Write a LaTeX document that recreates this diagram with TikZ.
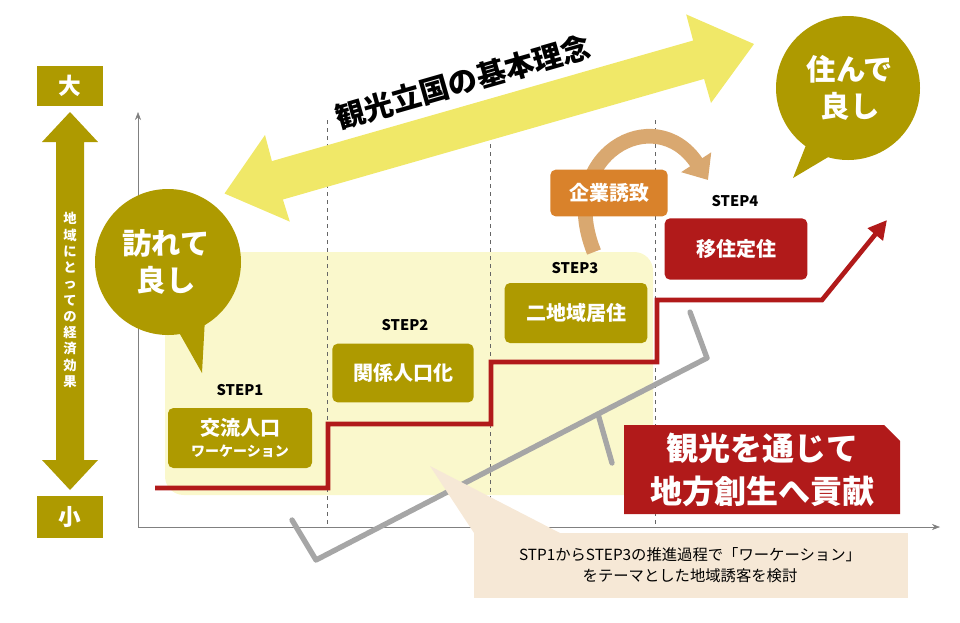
\documentclass[tikz,border=0pt]{standalone}
\usepackage{fontspec}
\setmainfont{Noto Sans CJK JP}
\usetikzlibrary{arrows.meta}
\definecolor{olive}{HTML}{AE9A00}
\definecolor{redc}{HTML}{B11A1A}
\definecolor{lyel}{HTML}{FAF8CC}
\definecolor{yel}{HTML}{F0E868}
\definecolor{orng}{HTML}{D9822B}
\definecolor{tan}{HTML}{D9A870}
\definecolor{beige}{HTML}{F6E8D6}
\begin{document}
\begin{tikzpicture}[x=0.75pt,y=-0.75pt,
  obox/.style={fill=olive,rounded corners=4pt,text=white,font=\bfseries\fontsize{15}{18}\selectfont,align=center,inner sep=0},
  steplbl/.style={font=\bfseries\fontsize{11}{13}\selectfont}]
\useasboundingbox (0,0) rectangle (960,622);
% light yellow area
\fill[lyel,rounded corners=14pt] (165,252) rectangle (653,495);
% axes
\draw[gray,-{Stealth[length=6pt]}] (138,527) -- (138,112);
\draw[gray,-{Stealth[length=6pt]}] (138,527) -- (940,527);
\foreach \x in {327,490,655} \draw[gray!80!black,dashed] (\x,120) -- (\x,527);
% big yellow double arrow
\fill[yel] (754,44) -- (686.2,14.4) -- (693.1,40.5) -- (271.9,161.1) -- (265,135) -- (224.5,193.5) -- (289.8,221.6) -- (282.9,199.5) -- (704.1,78.9) -- (711,103) -- cycle;
\node[rotate=16,font=\bfseries\fontsize{22}{26}\selectfont] (title) at (463,82) {観光立国の基本理念};
% left scale
\node[fill=olive,minimum width=49pt,minimum height=30pt,text=white,font=\bfseries\fontsize{17}{20}\selectfont] (big) at (70,86) {大};
\node[fill=olive,minimum width=49pt,minimum height=31pt,text=white,font=\bfseries\fontsize{17}{20}\selectfont] (small) at (70,517) {小};
\fill[olive] (70,112) -- (98,142) -- (84,142) -- (84,460) -- (98,460) -- (70,490) -- (42,460) -- (56,460) -- (56,142) -- (42,142) -- cycle;
\node[text=white,font=\bfseries\fontsize{10}{12.2}\selectfont,align=center] (vtext) at (70,300) {地\\域\\に\\と\\っ\\て\\の\\経\\済\\効\\果};
% red step line
\draw[redc,line width=3.5pt,-{Triangle[length=14pt,width=14pt]}] (155,488) -- (328,488) -- (328,424) -- (491,424) -- (491,362) -- (657,362) -- (657,300) -- (822,300) -- (887,220);
% steps
\node[steplbl] (s1) at (240,390) {STEP1};
\node[obox,minimum width=108pt,minimum height=45pt] (b1) at (240,438) {交流人口\\[-2pt]{\fontsize{10.5}{12}\selectfont ワーケーション}};
\node[steplbl] (s2) at (405,325) {STEP2};
\node[obox,minimum width=106pt,minimum height=44pt] (b2) at (403,373) {関係人口化};
\node[steplbl] (s3) at (575,268) {STEP3};
\node[obox,minimum width=107pt,minimum height=45pt] (b3) at (576,313) {二地域居住};
\node[steplbl] (s4) at (735,201) {STEP4};
\node[obox,fill=redc,minimum width=107pt,minimum height=46pt] (b4) at (736,249) {移住定住};
% curved arrow
\draw[tan,line width=11pt,-{Triangle[length=16pt,width=26pt]}] (594,252) .. controls (555,155) and (655,100) .. (708,180);
\node[obox,fill=orng,minimum width=88pt,minimum height=35pt] (kigyo) at (609,193) {企業誘致};
% bubbles
\fill[olive] (168,262) circle (73);
\fill[olive] (172,320) -- (202,373) -- (205,318) -- cycle;
\node[text=white,font=\bfseries\fontsize{22}{28}\selectfont,align=center] (bub1) at (166,262) {訪れて\\良し};
\fill[olive] (848,88) circle (72);
\fill[olive] (810,135) -- (793,178) -- (840,150) -- cycle;
\node[text=white,font=\bfseries\fontsize{22}{28}\selectfont,align=center] (bub2) at (850,88) {住んで\\良し};
% gray brace
\draw[gray!70,line width=4pt,line join=round,line cap=round] (690,312) -- (707,358) -- (598,414) -- (612,463);
\draw[gray!70,line width=4pt,line join=round,line cap=round] (598,414) -- (316,560) -- (292,520);
% red contribution box
\fill[redc] (624,425) -- (884,425) -- (900,441) -- (900,514) -- (624,514) -- cycle;
\node[text=white,font=\bfseries\fontsize{24}{32}\selectfont,align=center] (contrib) at (762,470) {観光を通じて\\地方創生へ貢献};
% beige callout
\fill[beige] (430,466) -- (560,533) -- (474,533) -- cycle;
\fill[beige] (474,533) rectangle (908,598);
\node[font=\fontsize{11.5}{16}\selectfont,align=center] (note) at (690,565) {STP1からSTEP3の推進過程で「ワーケーション」\\をテーマとした地域誘客を検討};
\end{tikzpicture}
\end{document}
